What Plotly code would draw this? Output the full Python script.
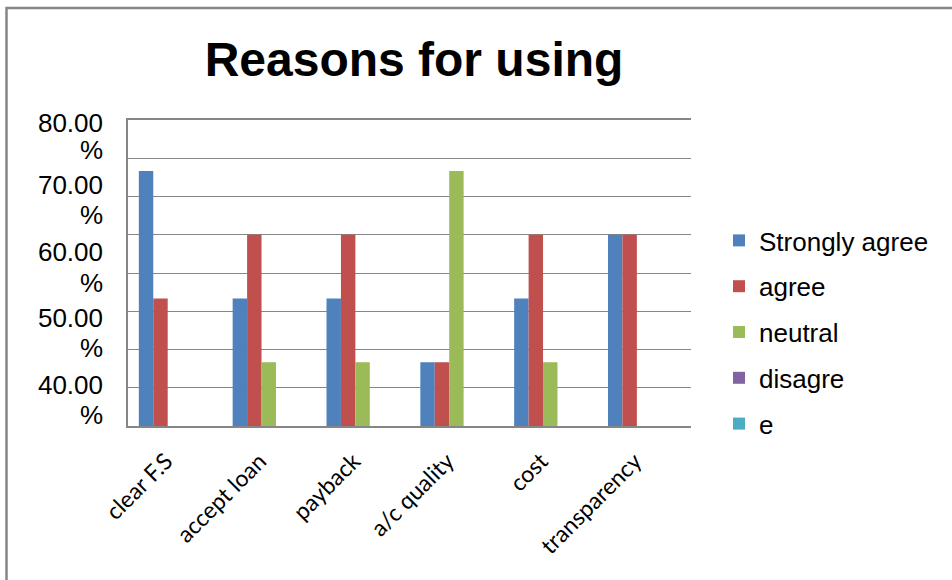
import plotly.graph_objects as go

categories = ["clear F.S", "accept loan", "payback", "a/c quality", "cost", "transparency"]
strongly_agree = [66.67, 33.33, 33.33, 16.67, 33.33, 50.0]
agree = [33.33, 50.0, 50.0, 16.67, 50.0, 50.0]
neutral = [0.0, 16.67, 16.67, 66.67, 16.67, 0.0]
disagree = [0.0, 0.0, 0.0, 0.0, 0.0, 0.0]
strongly_disagree = [0.0, 0.0, 0.0, 0.0, 0.0, 0.0]
series_names = ["Strongly agree", "agree", "neutral", "disagre", "e"]
tick_numbers = ["80.00", "70.00", "60.00", "50.00", "40.00"]
tick_percent = ["%", "%", "%", "%", "%"]

colors = ["#4F81BD", "#C0504D", "#9BBB59", "#8064A2", "#4BACC6"]
series = [strongly_agree, agree, neutral, disagree, strongly_disagree]

# layout positions of the (oddly placed) value-axis labels
num_pos = [79.3, 63.0, 45.6, 28.2, 10.7]
pct_pos = [72.2, 55.2, 37.5, 20.3, 2.9]

fig = go.Figure()
for i, (nm, vals) in enumerate(zip(series_names, series)):
    fig.add_trace(go.Bar(x=categories, y=vals, name=nm, marker_color=colors[i],
                         marker_line_width=0, legendgroup=nm))

fig.add_trace(go.Scatter(x=[], y=[], yaxis="y2", showlegend=False))
fig.add_trace(go.Scatter(x=[], y=[], yaxis="y3", showlegend=False))

W, H = 952, 580
L, R, T, B = 128, 261, 120, 154
pw, ph = W - L - R, H - T - B

def px(x):
    return (x - L) / pw

def py(y):
    return (H - B - y) / ph

grid = "#868686"
fig.update_layout(
    width=W, height=H,
    margin=dict(l=L, r=R, t=T, b=B, autoexpand=False),
    paper_bgcolor="white", plot_bgcolor="white",
    barmode="group", bargap=1.5 / 6.5, bargroupgap=0,
    title=dict(text="<b>Reasons for using</b>", x=414 / W, xanchor="center",
               y=1 - 59 / H, yanchor="middle", yref="container",
               font=dict(family="Liberation Sans, Arial", size=48, color="black")),
    font=dict(family="Liberation Sans, Arial", color="black"),
    xaxis=dict(showline=True, mirror=True, linecolor=grid, linewidth=1.5, ticks="",
               tickangle=-45, tickfont=dict(family="Lato", size=23, color="black"),
               ticklabelstandoff=11, ticklabelshift=-9, showgrid=False),
    yaxis=dict(range=[0, 80], tickmode="linear", tick0=0, dtick=10, showgrid=True,
               gridcolor=grid, gridwidth=1.3,
               showline=True, linecolor=grid, linewidth=1.5, showticklabels=False,
               ticks="", zeroline=False),
    yaxis2=dict(overlaying="y", side="left", anchor="x", range=[0, 80], tickmode="array",
                tickvals=num_pos, ticktext=tick_numbers, showgrid=False, zeroline=False,
                showline=False, ticks="", ticklabelstandoff=24,
                tickfont=dict(family="Liberation Sans, Arial", size=26, color="black")),
    yaxis3=dict(overlaying="y", side="left", anchor="x", range=[0, 80], tickmode="array",
                tickvals=pct_pos, ticktext=tick_percent, showgrid=False, zeroline=False,
                showline=False, ticks="", ticklabelstandoff=24,
                tickfont=dict(family="Liberation Sans, Arial", size=26, color="black")),
    legend=dict(x=px(719), xanchor="left", y=py(217), yanchor="top",
                font=dict(family="Liberation Sans, Arial", size=26, color="black"),
                tracegroupgap=9, bgcolor="rgba(0,0,0,0)", traceorder="grouped"),
    shapes=[dict(type="rect", xref="paper", yref="paper",
                 x0=px(6.5), x1=px(990), y0=py(620), y1=py(8),
                 line=dict(color=grid, width=2.5), fillcolor="rgba(0,0,0,0)", layer="below")],
)

fig.write_html("out.html", config={"displayModeBar": False},
               post_script="document.body.style.margin='0';document.body.style.overflow='hidden';")
